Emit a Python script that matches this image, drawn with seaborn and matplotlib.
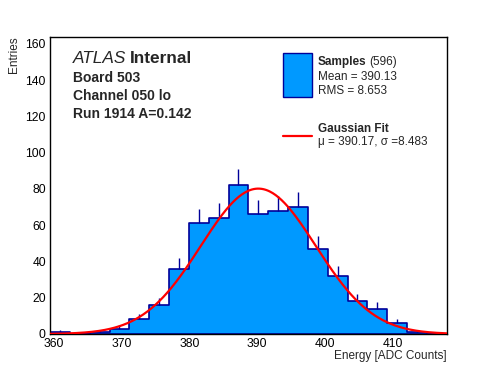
import numpy as np
import pandas as pd
import matplotlib
matplotlib.use("Agg")
import matplotlib.pyplot as plt
import seaborn as sns
from matplotlib.patches import Rectangle
from matplotlib.lines import Line2D

# ---------------- data ----------------
bin_edges = [359.4, 362.33, 365.26, 368.19, 371.12, 374.05, 376.98, 379.91, 382.84,
             385.77, 388.7, 391.63, 394.56, 397.49, 400.42, 403.35, 406.28, 409.21,
             412.14, 415.07, 418.0]
counts = [1, 0, 1, 3, 8, 16, 36, 61, 64, 82, 66, 68, 70, 47, 32, 18, 14, 6, 1, 0]
fit_mu = 390.17
fit_sigma = 8.483
fit_amp = 80.2
x_ticks = [360, 370, 380, 390, 400, 410]
y_ticks = [0, 20, 40, 60, 80, 100, 120, 140, 160]

sns.set_style("white")
plt.rcParams['font.family'] = ['Liberation Sans', 'DejaVu Sans']

W, H = 496, 372
fig = plt.figure(figsize=(W / 100, H / 100), dpi=100)
L, R, T, B = 50.0, 446.7, 36.7, 334.0
ax = fig.add_axes([L / W, 1 - B / H, (R - L) / W, (B - T) / H])

edges = np.array(bin_edges)
centers = 0.5 * (edges[:-1] + edges[1:])
cnt = np.array(counts, dtype=float)
df = pd.DataFrame({"energy": centers, "n": cnt})

sns.histplot(data=df, x="energy", weights="n", bins=list(bin_edges), element="step",
             fill=True, facecolor="#0099ff", edgecolor="#000099", alpha=1,
             linewidth=1.2, ax=ax, zorder=2)

# error bars (upper parts visible above the fill)
err = np.sqrt(cnt)
ax.vlines(centers, cnt, cnt + err, color="#000099", lw=1.0, zorder=3)

# gaussian fit curve
xs = np.linspace(bin_edges[0], bin_edges[-1], 400)
ys = fit_amp * np.exp(-0.5 * ((xs - fit_mu) / fit_sigma) ** 2)
ax.plot(xs, ys, color="#ff0000", lw=1.6, zorder=4)

ax.set_xlim(bin_edges[0], bin_edges[-1])
ax.set_ylim(0, 164)
ax.set_xticks(x_ticks)
ax.set_xticklabels([str(v) for v in x_ticks])
ax.set_xticks(np.arange(360, 418, 2), minor=True)
ax.set_yticks(y_ticks)
ax.set_yticklabels([str(v) for v in y_ticks])
ax.set_yticks(np.arange(0, 164, 4), minor=True)
ax.tick_params(axis='both', which='both', direction='in', top=False, right=False,
               labelsize=8.7, colors='black', width=0.9)
ax.tick_params(axis='x', which='major', length=6.5, pad=3)
ax.tick_params(axis='x', which='minor', length=3.0)
ax.tick_params(axis='y', which='major', length=8.8, pad=3)
ax.tick_params(axis='y', which='minor', length=4.6)
for s in ax.spines.values():
    s.set_color('black')
    s.set_linewidth(1.0)
    s.set_visible(True)
ax.set_xlabel("")
ax.set_ylabel("")

def ftext(x, y, s, **kw):
    fig.text(x / W, 1 - y / H, s, **kw)

ftext(446.5, 359.5, "Energy [ADC Counts]", ha='right', va='baseline', fontsize=8.5)
ftext(17, 36, "Entries", ha='right', va='baseline', rotation=90, fontsize=8.5,
      rotation_mode='anchor')

# ATLAS label block
t1 = fig.text(72.7 / W, 1 - 63.3 / H, "ATLAS", ha='left', va='baseline',
              fontsize=12.4, style='italic')
fig.canvas.draw()
bb = t1.get_window_extent()
fig.text((bb.x1 + 4) / W, 1 - 63.3 / H, "Internal", ha='left', va='baseline',
         fontsize=12.4, fontweight='bold')
ftext(73, 81.7, "Board 503", ha='left', va='baseline', fontsize=10, fontweight='bold')
ftext(73, 100.0, "Channel 050 lo", ha='left', va='baseline', fontsize=10, fontweight='bold')
ftext(73, 118.3, "Run 1914 A=0.142", ha='left', va='baseline', fontsize=10, fontweight='bold')

# legend
fig.patches.append(Rectangle((283.3 / W, 1 - 96.7 / H), (311.7 - 283.3) / W,
                             (96.7 - 53.3) / H, transform=fig.transFigure,
                             facecolor="#0099ff", edgecolor="#000099", lw=1.0))
t2 = fig.text(317.7 / W, 1 - 65.0 / H, "Samples", ha='left', va='baseline',
              fontsize=8.5, fontweight='bold')
fig.canvas.draw()
bb = t2.get_window_extent()
fig.text((bb.x1 + 3) / W, 1 - 65.0 / H, "(596)", ha='left', va='baseline', fontsize=8.5)
ftext(317.7, 80.0, "Mean = 390.13", ha='left', va='baseline', fontsize=8.5)
ftext(317.7, 93.5, "RMS = 8.653", ha='left', va='baseline', fontsize=8.5)

fig.lines.append(Line2D([283.3 / W, 311.7 / W], [1 - 136 / H, 1 - 136 / H],
                        transform=fig.transFigure, color="#ff0000", lw=1.6))
ftext(317.7, 132.5, "Gaussian Fit", ha='left', va='baseline', fontsize=8.5, fontweight='bold')
ftext(317.7, 145.5, "\u03bc = 390.17, \u03c3 =8.483", ha='left', va='baseline', fontsize=8.5)

fig.savefig("out.png", dpi=100)
